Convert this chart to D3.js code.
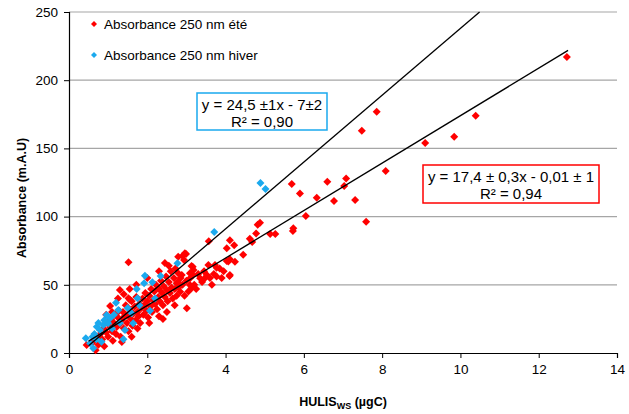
<!DOCTYPE html>
<html>
<head>
<meta charset="utf-8">
<script src="https://cdnjs.cloudflare.com/ajax/libs/d3/7.8.5/d3.min.js"></script>
<style>
  body { margin: 0; background: #fff; }
  svg { font-family: "Liberation Sans", Arial, sans-serif; }
</style>
</head>
<body>
<div id="container"></div>
<script>
// Absorbance 250 nm été (summer) - [HULIS µgC, absorbance]
var summer = [
  [12.72,217],[10.39,174],[9.84,158.6],[9.10,154],[8.09,133.4],[7.86,176.9],[7.48,163],
  [7.59,96.3],[7.31,112.2],[7.08,128],[7.03,122.4],[6.77,111.4],[6.60,125.6],[6.33,113.9],
  [6.05,100.4],[5.90,117],[5.69,123.9],[5.73,91.4],[5.72,89.5],[5.27,87.2],[5.14,87.2],
  [4.88,95.5],[4.82,94.1],[4.78,87.7],[4.62,83.8],[4.68,81.4],[4.45,72.1],[4.22,79],
  [4.11,82.6],[4.03,76.8],[4.11,68.7],[4.03,67.4],[4.24,66.9],[4.10,56.5],[3.57,81.9],
  [3.77,62.5],[3.56,64.5],[3.16,63.3],[2.96,73.1],[2.94,68.2],[2.99,72.6],[2.79,70.6],
  [2.90,71.1],[4.07,67],[3.73,64.5],[4.11,57.2],[3.77,56],[3.35,54.8],[3.18,60.9],
  [3.13,63.8],[3.01,32.8],[2.79,58.4],[2.88,57.2],[3.09,58.4],[3.16,57.2],[3.52,57.2],
  [3.47,54.8],[3.09,49.9],[3.13,47.4],[2.75,51.1],[2.84,44.9],[1.52,66.5],[1.30,46.2],
  [1.52,40.1],[1.56,38.9],[1.05,34.5],[0.45,5.9],
  [0.62,8],[0.68,2],[0.72,12],[0.75,6],[0.8,14],[0.85,10],[0.88,18],[0.9,5],[0.95,15],
  [0.98,22],[1.0,12],[1.05,19],[1.08,25],[1.1,16],[1.12,9],[1.15,22],[1.18,28],[1.2,14],
  [1.22,19],[1.25,26],[1.28,31],[1.3,21],[1.32,12],[1.35,24],[1.38,30],[1.4,18],[1.42,27],
  [1.45,35],[1.48,22],[1.5,28],[1.52,16],[1.55,32],[1.58,25],[1.6,38],[1.62,20],[1.65,29],
  [1.68,34],[1.7,24],[1.72,41],[1.75,30],[1.78,27],[1.8,36],[1.82,22],[1.85,33],[1.88,40],
  [1.9,28],[1.92,35],[1.95,44],[1.98,31],[2.0,38],[2.02,26],[2.05,42],[2.08,34],[2.1,47],
  [2.12,30],[2.15,39],[2.18,45],[2.2,36],[2.22,50],[2.25,32],[2.28,41],[2.3,47],[2.32,38],
  [2.35,53],[2.38,44],[2.4,35],[2.42,49],[2.45,41],[2.48,56],[2.5,46],[2.52,38],[2.55,52],
  [2.58,44],[2.6,60],[2.62,48],[2.65,40],[2.68,55],[2.7,47],[2.72,62],[2.75,42],[2.78,52],
  [2.8,48],[2.85,55],[2.9,50],[2.95,42],[3.0,53],[3.05,45],[3.1,55],[3.2,50],[3.25,47],
  [3.3,58],[3.4,52],[3.45,60],[3.6,55],[3.65,50],[3.7,58],[3.85,62],[3.9,55],[3.95,60],
  [1.25,40],[1.4,43],[1.55,47],[1.72,50],[2.0,55],[2.3,60],[2.45,66],[2.55,64],[1.1,30],
  [0.95,28],[1.35,8],[1.6,12],[1.75,18],[2.05,22],[2.3,27],[2.5,30],[2.7,35],[2.4,25]
];

// Absorbance 250 nm hiver (winter)
var winter = [
  [4.89,124.6],[5.02,120.2],[3.71,88.7],[2.77,65.8],[1.94,56.7],[2.34,56.5],[2.13,51.8],
  [1.92,51.1],[1.73,46.9],[1.75,40.1],[1.20,36.9],[1.05,25.4],[0.96,27.9],[0.88,20.5],
  [0.71,19.3],[0.79,16.9],[0.43,10.8],[0.54,7.1],[0.62,3.4],[0.83,8.3],[1.43,16.9],
  [1.39,10],[1.26,31.5],[1.60,29.1],[1.64,21.8],[2.07,31],[1.0,21.8],[0.65,14],[0.9,24],
  [1.15,28],[1.5,33],[1.8,35],[2.2,40],[0.7,10],[0.6,12],[0.75,22],[1.3,22],[1.1,18]
];

// regression lines: slope, intercept, x range
var fitSummer = { slope: 17.4, intercept: -0.01, x0: 0.5, x1: 12.75 };
var fitWinter = { slope: 24.5, intercept: -7, x0: 0.5, x1: 10.49 };

var xTicks = [0, 2, 4, 6, 8, 10, 12, 14];
var yTicks = [0, 50, 100, 150, 200, 250];
var legendLabels = ["Absorbance 250 nm été", "Absorbance 250 nm hiver"];
var eqWinter = ["y = 24,5 ±1x - 7±2", "R² = 0,90"];
var eqSummer = ["y = 17,4 ± 0,3x - 0,01 ± 1", "R² = 0,94"];

var RED = "#ff0000", BLUE = "#1aa9ee";

var width = 629, height = 414;
var svg = d3.select("#container").append("svg")
    .attr("width", width).attr("height", height);

var x = d3.scaleLinear().domain([0, 14]).range([69, 617]);
var y = d3.scaleLinear().domain([0, 250]).range([353, 12]);

// gridlines
svg.append("g").selectAll("line")
    .data(yTicks.filter(function(d) { return d > 0; }))
    .enter().append("line")
    .attr("x1", x(0)).attr("x2", x(14))
    .attr("y1", function(d) { return y(d); })
    .attr("y2", function(d) { return y(d); })
    .attr("stroke", "#a6a6a6").attr("stroke-width", 1.2);

// axes
var xAxis = svg.append("g")
    .attr("transform", "translate(0," + y(0) + ")")
    .call(d3.axisBottom(x).tickValues(xTicks).tickSize(5).tickPadding(6));
var yAxis = svg.append("g")
    .attr("transform", "translate(" + x(0) + ",0)")
    .call(d3.axisLeft(y).tickValues(yTicks).tickSize(5).tickPadding(6));
[xAxis, yAxis].forEach(function(a) {
    a.select(".domain").attr("stroke", "#000").attr("stroke-width", 1.2);
    a.selectAll(".tick line").attr("stroke", "#000");
    a.selectAll(".tick text").attr("font-size", 13.5).attr("fill", "#000")
        .attr("font-family", "Liberation Sans, Arial, sans-serif");
});

// square diamond marker like the spreadsheet one
var diamond = "M0,-4L4,0L0,4L-4,0Z";

function drawSeries(data, color) {
    svg.append("g").selectAll("path")
        .data(data)
        .enter().append("path")
        .attr("d", diamond)
        .attr("transform", function(d) { return "translate(" + x(d[0]) + "," + y(d[1]) + ")"; })
        .attr("fill", color);
}
drawSeries(summer, RED);
drawSeries(winter, BLUE);

// trend lines
[fitSummer, fitWinter].forEach(function(f) {
    svg.append("line")
        .attr("x1", x(f.x0)).attr("y1", y(f.slope * f.x0 + f.intercept))
        .attr("x2", x(f.x1)).attr("y2", y(f.slope * f.x1 + f.intercept))
        .attr("stroke", "#000").attr("stroke-width", 1.3);
});

// legend
legendLabels.forEach(function(l, i) {
    var ly = 24 + i * 31;
    svg.append("path").attr("d", "M0,-3L3,0L0,3L-3,0Z")
        .attr("transform", "translate(94," + ly + ")")
        .attr("fill", i === 0 ? RED : BLUE);
    svg.append("text").attr("x", 104).attr("y", ly + 5)
        .attr("font-size", 13.5).text(l);
});

// equation boxes
function eqBox(lines, x0, y0, w, h, color) {
    svg.append("rect").attr("x", x0).attr("y", y0).attr("width", w).attr("height", h)
        .attr("fill", "#fff").attr("stroke", color).attr("stroke-width", 1.5);
    lines.forEach(function(t, i) {
        svg.append("text").attr("x", x0 + w / 2).attr("y", y0 + 17 + i * 17)
            .attr("text-anchor", "middle").attr("font-size", 15).text(t);
    });
}
eqBox(eqWinter, 197, 93, 130, 37, BLUE);
eqBox(eqSummer, 423, 165, 176, 38, RED);

// axis titles
svg.append("text")
    .attr("transform", "translate(26,198) rotate(-90)")
    .attr("text-anchor", "middle").attr("font-size", 12.5).attr("font-weight", "bold")
    .text("Absorbance (m.A.U)");

var xt = svg.append("text").attr("x", 343).attr("y", 406)
    .attr("text-anchor", "middle").attr("font-size", 12.5).attr("font-weight", "bold");
xt.append("tspan").text("HULIS");
xt.append("tspan").attr("font-size", 9).attr("dy", 3).text("WS");
xt.append("tspan").attr("dy", -3).text(" (µgC)");
</script>
</body>
</html>
